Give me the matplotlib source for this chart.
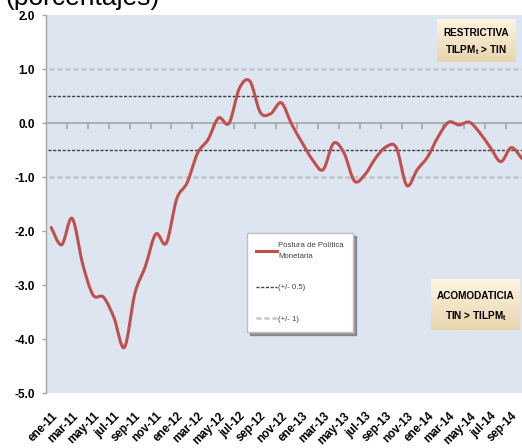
import numpy as np
import matplotlib
matplotlib.use('Agg')
from matplotlib import pyplot as plt
from matplotlib.path import Path
from matplotlib.patches import PathPatch
from matplotlib.lines import Line2D
from matplotlib import font_manager

# fuente angosta tipo Calibri si existe
nombres = {f.name for f in font_manager.fontManager.ttflist}
fuente = 'Liberation Sans Narrow' if 'Liberation Sans Narrow' in nombres else 'Liberation Sans'
plt.rcParams['font.family'] = [fuente, 'DejaVu Sans']

# datos: postura de politica monetaria, mensual ene-11 a oct-14
etiquetas_x = ['ene-11', 'mar-11', 'may-11', 'jul-11', 'sep-11', 'nov-11',
               'ene-12', 'mar-12', 'may-12', 'jul-12', 'sep-12', 'nov-12',
               'ene-13', 'mar-13', 'may-13', 'jul-13', 'sep-13', 'nov-13',
               'ene-14', 'mar-14', 'may-14', 'jul-14', 'sep-14']
postura = [-1.93, -2.25, -1.76, -2.60, -3.18, -3.22, -3.60, -4.15, -3.15, -2.65,
           -2.05, -2.22, -1.40, -1.10, -0.55, -0.30, 0.10, 0.00, 0.65, 0.78,
           0.20, 0.18, 0.38, -0.02, -0.36, -0.68, -0.86, -0.37, -0.55, -1.07,
           -0.95, -0.65, -0.44, -0.45, -1.15, -0.86, -0.62, -0.25, 0.02, -0.03,
           0.02, -0.18, -0.45, -0.71, -0.45, -0.65]
banda_interna = 0.5
banda_externa = 1.0
y_ticks = [2.0, 1.0, 0.0, -1.0, -2.0, -3.0, -4.0, -5.0]

n = len(postura)
x = np.arange(n)
y = np.array(postura)

W, H = 522, 448
gris = '#A6A6A6'
fig = plt.figure(figsize=(W / 100, H / 100), dpi=100)
ax = fig.add_axes([46 / W, 1 - 393.3 / H, 481 / W, (393.3 - 15.3) / H])
ax.set_facecolor('#DDE5F1')
ax.set_xlim(-0.5, n - 0.5)
ax.set_ylim(-5, 2)

# bandas
ax.hlines([banda_externa, -banda_externa], -0.25, n, colors='#C4C4C4', lw=1.8,
          linestyles=[(0, (2, 1.2))])
ax.hlines([banda_interna, -banda_interna], -0.3, n, colors='#404040', lw=1.0,
          linestyles=[(0, (2.2, 1.2))])

# linea suavizada (bezier tipo excel)
verts = [(x[0], y[0])]
codes = [Path.MOVETO]
for i in range(n - 1):
    p0 = i - 1 if i > 0 else i
    p3 = i + 2 if i + 2 < n else i + 1
    c1 = (x[i] + (x[i + 1] - x[p0]) / 6, y[i] + (y[i + 1] - y[p0]) / 6)
    c2 = (x[i + 1] - (x[p3] - x[i]) / 6, y[i + 1] - (y[p3] - y[i]) / 6)
    verts += [c1, c2, (x[i + 1], y[i + 1])]
    codes += [Path.CURVE4] * 3
ax.add_patch(PathPatch(Path(verts, codes), fill=False, edgecolor='#C0504D',
                       lw=2.2, capstyle='round', joinstyle='round', zorder=5))

# ejes
for s in ['top', 'right', 'bottom']:
    ax.spines[s].set_visible(False)
ax.spines['left'].set_color(gris)
ax.spines['left'].set_linewidth(1.0)
ax.set_yticks(y_ticks)
ax.set_yticklabels(['%.1f' % v for v in y_ticks], fontweight='bold', fontsize=8.5)
ax.tick_params(axis='y', length=3, width=1, color=gris, pad=5)

ax.set_xticks(np.arange(0, n - 1, 2))
ax.set_xticklabels(etiquetas_x, rotation=45, ha='right', va='top',
                   rotation_mode='anchor', fontweight='bold', fontsize=8.3)
ax.tick_params(axis='x', length=0, pad=12)

# eje en cero con marcas hacia abajo
eje0 = ax.secondary_xaxis(5 / 7)
eje0.set_alignment('bottom')
eje0.set_xticks(np.arange(1.5, n, 2))
eje0.set_xticklabels([])
eje0.tick_params(axis='x', direction='out', length=4, width=1.2, color=gris)
for s in eje0.spines.values():
    s.set_color(gris)
    s.set_linewidth(1.2)

# titulo cortado
fig.text(5 / W, 1 - 4.5 / H, '(porcentajes)', fontsize=19, family='Liberation Sans',
         va='baseline', ha='left', color='black')

# cajas con degradado
def caja(x0, y0, x1, y1, linea1, linea2):
    a = fig.add_axes([x0 / W, 1 - y1 / H, (x1 - x0) / W, (y1 - y0) / H])
    grad = np.linspace(0, 1, 50)[:, None]
    a.imshow(grad, aspect='auto', cmap=matplotlib.colors.LinearSegmentedColormap.from_list(
        'g', ['#FDF4E1', '#E8D5AC']), extent=(0, 1, 0, 1))
    a.axis('off')
    a.text(0.5, 0.68, linea1, ha='center', va='center', fontweight='bold', fontsize=7.2)
    a.text(0.5, 0.27, linea2, ha='center', va='center', fontweight='bold', fontsize=7.2)

caja(436.7, 19, 515, 61.7, 'RESTRICTIVA', r'TILPM$_{\mathregular{t}}$ > TIN')
caja(431, 279.3, 520, 330, 'ACOMODATICIA', r'TIN > TILPM$_{\mathregular{t}}$')

# leyenda
handles = [Line2D([], [], color='#C0504D', lw=2.2),
           Line2D([], [], color='#404040', lw=1.0, ls=(0, (2.2, 1.2))),
           Line2D([], [], color='#C4C4C4', lw=1.8, ls=(0, (2, 1.2)))]
labels = ['Postura de Política\nMonetaria', '(+/- 0.5)', '(+/- 1)']
leg = ax.legend(handles, labels, loc='upper left', bbox_to_anchor=(247 / W, 1 - 233 / H),
                bbox_transform=fig.transFigure, frameon=True, fancybox=False, shadow=True,
                fontsize=5.6, handlelength=2.6, handletextpad=0.2, labelspacing=3.1,
                borderpad=1.2, borderaxespad=0)
leg.get_frame().set_edgecolor('#BFBFBF')
leg.get_frame().set_facecolor('white')
leg.get_frame().set_alpha(1)
for t in leg.get_texts():
    t.set_color('#404040')
    t.set_linespacing(1.7)

fig.savefig('out.png', dpi=100)
